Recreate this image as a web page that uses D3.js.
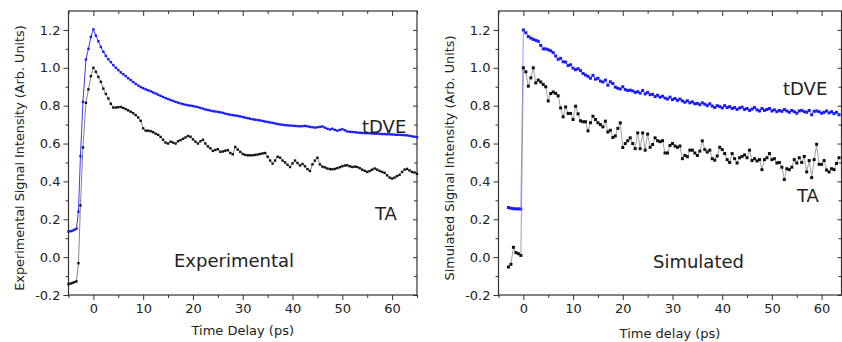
<!DOCTYPE html>
<html>
<head>
<meta charset="utf-8">
<script src="https://cdn.jsdelivr.net/npm/d3@7"></script>
<style>
  body { margin: 0; background: #fff; }
  text { font-family: "DejaVu Sans", sans-serif; fill: #222; }
</style>
</head>
<body>
<script>
// ---- data ----
// left panel (experimental)
var expTime = [-5, -4.6, -4.2, -3.8, -3.4, -3.0, -2.6, -2.1, -1.5, -1.0, -0.5,
  0, 0.5, 1, 1.5, 2, 2.5, 3, 3.5, 4, 4.5,
  5, 5.5, 6, 6.5, 7, 7.5, 8, 8.5, 9, 9.5,
  10, 10.5, 11, 11.5, 12, 12.5, 13, 13.5, 14, 14.5,
  15, 15.5, 16, 16.5, 17, 17.5, 18, 18.5, 19, 19.5,
  20, 20.5, 21, 21.5, 22, 22.5, 23, 23.5, 24, 24.5,
  25, 25.5, 26, 26.5, 27, 27.5, 28, 28.5, 29, 29.5,
  30, 30.5, 31, 31.5, 32, 32.5, 33, 33.5, 34, 34.5,
  35, 35.5, 36, 36.5, 37, 37.5, 38, 38.5, 39, 39.5,
  40, 40.5, 41, 41.5, 42, 42.5, 43, 43.5, 44, 44.5,
  45, 45.5, 46, 46.5, 47, 47.5, 48, 48.5, 49, 49.5,
  50, 50.5, 51, 51.5, 52, 52.5, 53, 53.5, 54, 54.5,
  55, 55.5, 56, 56.5, 57, 57.5, 58, 58.5, 59, 59.5,
  60, 60.5, 61, 61.5, 62, 62.5, 63, 63.5, 64, 64.5, 65];

var expDVE = [0.135, 0.137, 0.14, 0.145, 0.15, 0.24, 0.533, 0.82, 1.044, 1.10, 1.164,
  1.203, 1.17, 1.14, 1.11, 1.085, 1.063, 1.045, 1.03, 1.014, 1.0,
  0.988, 0.976, 0.966, 0.956, 0.945, 0.935, 0.925, 0.915, 0.906, 0.898,
  0.892, 0.886, 0.881, 0.876, 0.87, 0.864, 0.858, 0.852, 0.846, 0.84,
  0.835, 0.83, 0.825, 0.82, 0.816, 0.812, 0.808, 0.805, 0.802, 0.8,
  0.798, 0.795, 0.792, 0.788, 0.784, 0.78, 0.777, 0.774, 0.771, 0.769,
  0.767, 0.765, 0.762, 0.758, 0.755, 0.752, 0.75, 0.748, 0.746, 0.743,
  0.74, 0.737, 0.734, 0.731, 0.728, 0.726, 0.724, 0.722, 0.719, 0.716,
  0.714, 0.711, 0.709, 0.706, 0.703, 0.701, 0.699, 0.697, 0.696, 0.695,
  0.694, 0.693, 0.692, 0.691, 0.692, 0.693, 0.691, 0.688, 0.686, 0.684,
  0.686, 0.688, 0.69, 0.684, 0.678, 0.674, 0.678, 0.672, 0.668, 0.672,
  0.676, 0.67, 0.664, 0.662, 0.661, 0.66, 0.658, 0.657, 0.656, 0.655,
  0.655, 0.654, 0.653, 0.652, 0.652, 0.651, 0.65, 0.65, 0.649, 0.649,
  0.648, 0.647, 0.646, 0.646, 0.645, 0.644, 0.643, 0.641, 0.638, 0.636, 0.633];

var expTA = [-0.142, -0.14, -0.136, -0.132, -0.128, -0.032, 0.273, 0.579, 0.815, 0.886, 0.956,
  1.0, 0.979, 0.952, 0.926, 0.89, 0.862, 0.838, 0.81, 0.79, 0.79,
  0.792, 0.793, 0.788, 0.782, 0.775, 0.768, 0.76, 0.75, 0.738, 0.72,
  0.68, 0.668, 0.668, 0.665, 0.66, 0.652, 0.646, 0.635, 0.62, 0.605,
  0.6, 0.61, 0.605, 0.6, 0.612, 0.618, 0.625, 0.632, 0.64, 0.636,
  0.622, 0.61, 0.6, 0.612, 0.62, 0.6, 0.585, 0.575, 0.561, 0.566,
  0.57, 0.556, 0.558, 0.562, 0.565, 0.55, 0.543, 0.582, 0.568, 0.556,
  0.545, 0.54, 0.538, 0.538, 0.538, 0.54, 0.542, 0.545, 0.548, 0.55,
  0.53, 0.51, 0.494, 0.51, 0.53, 0.525, 0.51, 0.5, 0.488, 0.476,
  0.495, 0.51, 0.497, 0.484, 0.492, 0.48, 0.465, 0.455, 0.49, 0.51,
  0.525, 0.49, 0.478, 0.474, 0.468, 0.465, 0.464, 0.466, 0.47, 0.475,
  0.48, 0.484, 0.485, 0.48, 0.476, 0.478, 0.476, 0.47, 0.462, 0.456,
  0.45, 0.455, 0.462, 0.468, 0.462, 0.455, 0.45, 0.445, 0.432, 0.42,
  0.415, 0.42, 0.428, 0.435, 0.45, 0.462, 0.466, 0.458, 0.45, 0.447, 0.44];

// right panel (simulated)
var simTime = [-3, -2.5, -2, -1.5, -1, -0.5,
  0, 0.5, 1, 1.5, 2, 2.5, 3, 3.5, 4, 4.5,
  5, 5.5, 6, 6.5, 7, 7.5, 8, 8.5, 9, 9.5,
  10, 10.5, 11, 11.5, 12, 12.5, 13, 13.5, 14, 14.5,
  15, 15.5, 16, 16.5, 17, 17.5, 18, 18.5, 19, 19.5,
  20, 20.5, 21, 21.5, 22, 22.5, 23, 23.5, 24, 24.5,
  25, 25.5, 26, 26.5, 27, 27.5, 28, 28.5, 29, 29.5,
  30, 30.5, 31, 31.5, 32, 32.5, 33, 33.5, 34, 34.5,
  35, 35.5, 36, 36.5, 37, 37.5, 38, 38.5, 39, 39.5,
  40, 40.5, 41, 41.5, 42, 42.5, 43, 43.5, 44, 44.5,
  45, 45.5, 46, 46.5, 47, 47.5, 48, 48.5, 49, 49.5,
  50, 50.5, 51, 51.5, 52, 52.5, 53, 53.5, 54, 54.5,
  55, 55.5, 56, 56.5, 57, 57.5, 58, 58.5, 59, 59.5,
  60, 60.5, 61, 61.5, 62, 62.5, 63, 63.5];

var simDVE = [0.262, 0.258, 0.256, 0.255, 0.255, 0.254,
  1.2, 1.185, 1.165, 1.157, 1.15, 1.145, 1.14, 1.118, 1.1, 1.1,
  1.095, 1.09, 1.08, 1.062, 1.045, 1.05, 1.032, 1.03, 1.012, 1.016,
  0.998, 0.99, 0.995, 0.985, 0.97, 0.962, 0.955, 0.945, 0.96, 0.94,
  0.945, 0.93, 0.925, 0.935, 0.908, 0.926, 0.917, 0.898, 0.892, 0.888,
  0.9, 0.885, 0.88, 0.882, 0.878, 0.87, 0.874, 0.866, 0.88, 0.862,
  0.87, 0.858, 0.86, 0.848, 0.855, 0.845, 0.85, 0.84, 0.835, 0.845,
  0.832, 0.838, 0.828, 0.835, 0.825, 0.818, 0.826, 0.815, 0.82, 0.81,
  0.812, 0.805, 0.815, 0.808, 0.8, 0.81, 0.798, 0.79, 0.8, 0.795,
  0.788, 0.8, 0.79, 0.795, 0.785, 0.79, 0.78, 0.788, 0.792, 0.78,
  0.785, 0.775, 0.782, 0.79, 0.778, 0.772, 0.785, 0.775, 0.78, 0.785,
  0.772, 0.778, 0.768, 0.775, 0.77, 0.78, 0.772, 0.765, 0.775, 0.768,
  0.76, 0.772, 0.775, 0.768, 0.765, 0.775, 0.752, 0.77, 0.772, 0.768,
  0.76, 0.765, 0.772, 0.762, 0.768, 0.758, 0.765, 0.752];

var simTA = [-0.052, -0.038, 0.052, 0.024, 0.018, 0.009,
  1.0, 0.979, 0.903, 0.947, 1.0, 0.92, 0.935, 0.925, 0.912, 0.9,
  0.825, 0.864, 0.872, 0.865, 0.852, 0.788, 0.741, 0.793, 0.759, 0.759,
  0.727, 0.797, 0.757, 0.72, 0.715, 0.715, 0.667, 0.71, 0.744, 0.727,
  0.71, 0.7, 0.688, 0.718, 0.661, 0.67, 0.632, 0.64, 0.68, 0.709,
  0.579, 0.6, 0.615, 0.63, 0.6, 0.573, 0.656, 0.573, 0.656, 0.565,
  0.65, 0.58, 0.595, 0.63, 0.615, 0.61, 0.615, 0.55, 0.55, 0.59,
  0.6, 0.587, 0.58, 0.587, 0.52, 0.537, 0.53, 0.565, 0.565, 0.55,
  0.537, 0.56, 0.614, 0.568, 0.555, 0.565, 0.52, 0.512, 0.534, 0.58,
  0.568, 0.547, 0.515, 0.5, 0.547, 0.52, 0.497, 0.525, 0.532, 0.54,
  0.525, 0.565, 0.51, 0.52, 0.508, 0.515, 0.462, 0.515, 0.525, 0.547,
  0.515, 0.52, 0.497, 0.5, 0.475, 0.41, 0.467, 0.462, 0.475, 0.515,
  0.497, 0.525, 0.5, 0.532, 0.45, 0.51, 0.42, 0.515, 0.596, 0.49,
  0.49, 0.51, 0.46, 0.45, 0.467, 0.462, 0.495, 0.525];

// ticks
var xTicks = [0, 10, 20, 30, 40, 50, 60];
var xMinor = [-5, 5, 15, 25, 35, 45, 55, 65];
var yTicks = [-0.2, 0.0, 0.2, 0.4, 0.6, 0.8, 1.0, 1.2];
var yMinor = [-0.1, 0.1, 0.3, 0.5, 0.7, 0.9, 1.1];

var svg = d3.select("body").append("svg")
    .attr("width", 842)
    .attr("height", 342);

var axisColor = "#333";

function drawPanel(p) {
    var x = d3.scaleLinear().domain(p.xDomain).range([p.left, p.right]);
    var y = d3.scaleLinear().domain([-0.2, 1.3]).range([295, 11]);
    var g = svg.append("g");

    // frame
    g.append("rect")
        .attr("x", p.left).attr("y", 11)
        .attr("width", p.right - p.left).attr("height", 284)
        .attr("fill", "none").attr("stroke", axisColor).attr("stroke-width", 1.2);

    var xm = xMinor.filter(function(d) { return d >= p.xDomain[0] && d <= p.xDomain[1]; });

    // bottom axis, ticks out
    var bottom = g.append("g").attr("transform", "translate(0,295)");
    bottom.call(d3.axisBottom(x).tickValues(xTicks).tickSize(5).tickSizeOuter(0).tickPadding(4)
        .tickFormat(function(d) { return d; }));
    bottom.append("g").call(d3.axisBottom(x).tickValues(xm).tickSize(3).tickSizeOuter(0).tickFormat(""));
    // top axis, ticks in
    var top = g.append("g").attr("transform", "translate(0,11)");
    top.call(d3.axisTop(x).tickValues(xTicks).tickSize(-5).tickSizeOuter(0).tickFormat(""));
    top.append("g").call(d3.axisTop(x).tickValues(xm).tickSize(-3).tickSizeOuter(0).tickFormat(""));

    // left axis, ticks out
    var left = g.append("g").attr("transform", "translate(" + p.left + ",0)");
    left.call(d3.axisLeft(y).tickValues(yTicks).tickSize(5).tickSizeOuter(0).tickPadding(3)
        .tickFormat(function(d) { return d.toFixed(1); }));
    left.append("g").call(d3.axisLeft(y).tickValues(yMinor).tickSize(3).tickSizeOuter(0).tickFormat(""));
    // right axis, ticks in
    var right = g.append("g").attr("transform", "translate(" + p.right + ",0)");
    right.call(d3.axisRight(y).tickValues(yTicks).tickSize(-4).tickSizeOuter(0).tickFormat(""));
    right.append("g").call(d3.axisRight(y).tickValues(yMinor).tickSize(-3).tickSizeOuter(0).tickFormat(""));

    g.selectAll(".domain").remove();
    g.selectAll(".tick line").attr("stroke", axisColor);
    g.selectAll(".tick text")
        .style("font-family", "'DejaVu Sans', sans-serif")
        .style("font-size", "13px")
        .attr("fill", "#222");

    // series: thin line plus small square markers
    p.series.forEach(function(s) {
        var pts = p.time.map(function(t, i) { return [t, s.values[i]]; });
        g.append("path")
            .datum(pts)
            .attr("fill", "none")
            .attr("stroke", s.line)
            .attr("stroke-width", s.lineWidth)
            .attr("d", d3.line().x(function(d) { return x(d[0]); }).y(function(d) { return y(d[1]); }));
        g.selectAll(null)
            .data(pts)
            .enter()
            .append("rect")
            .attr("x", function(d) { return x(d[0]) - p.marker / 2; })
            .attr("y", function(d) { return y(d[1]) - p.marker / 2; })
            .attr("width", p.marker)
            .attr("height", p.marker)
            .attr("fill", s.color);
    });

    // axis titles
    g.append("text")
        .attr("x", (p.left + p.right) / 2)
        .attr("y", p.xTitleY)
        .attr("text-anchor", "middle")
        .style("font-size", "13px")
        .text(p.xTitle);
    g.append("text")
        .attr("transform", "translate(" + p.yTitleX + ",158)rotate(-90)")
        .attr("text-anchor", "middle")
        .style("font-size", "12.8px")
        .text(p.yTitle);

    // annotations
    p.labels.forEach(function(l) {
        g.append("text")
            .attr("x", l.x).attr("y", l.y)
            .style("font-size", "18px")
            .text(l.text);
    });
}

drawPanel({
    left: 68.5, right: 417, xDomain: [-5, 65],
    time: expTime, marker: 2.4,
    series: [
        {values: expDVE, color: "#1a1aff", line: "#3a3aff", lineWidth: 1},
        {values: expTA, color: "#111", line: "#777", lineWidth: 0.9}
    ],
    xTitle: "Time Delay (ps)", xTitleY: 335,
    yTitle: "Experimental Signal Intensity (Arb. Units)", yTitleX: 23.5,
    labels: [
        {text: "tDVE", x: 362, y: 133},
        {text: "TA", x: 375, y: 220},
        {text: "Experimental", x: 174, y: 267}
    ]
});

drawPanel({
    left: 498.5, right: 841.5, xDomain: [-5, 64],
    time: simTime, marker: 3,
    series: [
        {values: simDVE, color: "#1a1aff", line: "#8a8aff", lineWidth: 0.9},
        {values: simTA, color: "#111", line: "#8a8a8a", lineWidth: 0.8}
    ],
    xTitle: "Time delay (ps)", xTitleY: 338,
    yTitle: "Simulated Signal Intensity (Arb. Units)", yTitleX: 453.5,
    labels: [
        {text: "tDVE", x: 783, y: 95},
        {text: "TA", x: 797, y: 202},
        {text: "Simulated", x: 653, y: 268}
    ]
});
</script>
</body>
</html>
